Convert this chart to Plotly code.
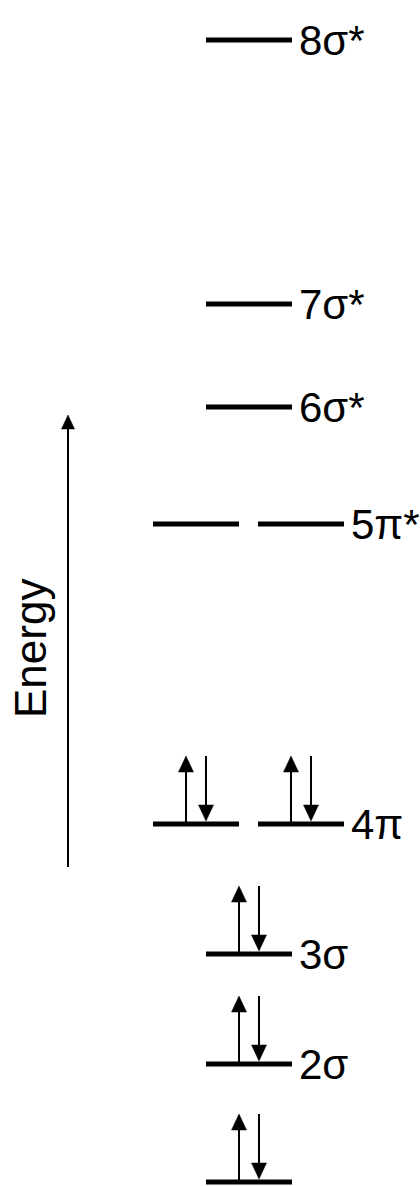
import plotly.graph_objects as go

# ---- data ----
orbitals = ["1σ", "2σ", "3σ", "4π", "5π*", "6σ*", "7σ*", "8σ*"]
labels = ["", "2σ", "3σ", "4π", "5π*", "6σ*", "7σ*", "8σ*"]
energies = [0.00, 1.18, 2.28, 3.58, 6.58, 7.75, 8.78, 11.42]
degeneracy = [1, 1, 1, 2, 2, 1, 1, 1]
electrons = [2, 2, 2, 4, 0, 0, 0, 0]
axis_label = "Energy"

# ---- layout constants ----
W, H = 420, 1186
Y_MIN, Y_MAX = -0.04, 11.82
PX = H / (Y_MAX - Y_MIN)          # pixels per energy unit


def dy(px):
    return px / PX


def e_of_px(py):
    return Y_MAX - py / PX


X_SINGLE = [249]
X_DEGEN = [196, 301]
HALF = 43
LEVEL_W = 4.8
ARROW_OFF = 10
ARROW_LEN = 68
DOWN_GAP = 3
HEAD_L = 16
HEAD_HW = 7.5
SHAFT_W = 2
FONT = "Arial, Liberation Sans, sans-serif"
FS = 42

lx, ly = [], []
sx, sy = [], []
hx, hy = [], []
annotations = []

for name, lab, e, g, n in zip(orbitals, labels, energies, degeneracy, electrons):
    centers = X_SINGLE if g == 1 else X_DEGEN
    per = n // g
    for c in centers:
        lx += [c - HALF, c + HALF, None]
        ly += [e, e, None]
        if per >= 1:
            x = c - ARROW_OFF
            tip = e + dy(ARROW_LEN)
            sx += [x, x, None]
            sy += [e, tip - dy(HEAD_L - 2), None]
            hx += [x - HEAD_HW, x + HEAD_HW, x, x - HEAD_HW, None]
            hy += [tip - dy(HEAD_L), tip - dy(HEAD_L), tip, tip - dy(HEAD_L), None]
        if per >= 2:
            x = c + ARROW_OFF
            tip = e + dy(DOWN_GAP)
            top = e + dy(ARROW_LEN)
            sx += [x, x, None]
            sy += [top, tip + dy(HEAD_L - 2), None]
            hx += [x - HEAD_HW, x + HEAD_HW, x, x - HEAD_HW, None]
            hy += [tip + dy(HEAD_L), tip + dy(HEAD_L), tip, tip + dy(HEAD_L), None]
    if lab:
        right = max(centers) + HALF
        annotations.append(dict(
            x=right + 5, y=e, xref="x", yref="y", text=lab, showarrow=False,
            xanchor="left", yanchor="middle",
            font=dict(family=FONT, size=FS, color="black")))

# energy axis arrow
EX = 68
e_bot = e_of_px(867)
e_tip = e_of_px(415)
EH_L = 14
EH_HW = 6.5
sx += [EX, EX, None]
sy += [e_bot, e_tip - dy(EH_L - 2), None]
hx += [EX - EH_HW, EX + EH_HW, EX, EX - EH_HW, None]
hy += [e_tip - dy(EH_L), e_tip - dy(EH_L), e_tip, e_tip - dy(EH_L), None]

annotations.append(dict(
    x=30, y=e_of_px(649), xref="x", yref="y", text=axis_label, showarrow=False,
    textangle=-90, xanchor="center", yanchor="middle",
    font=dict(family=FONT, size=44, color="black")))

fig = go.Figure()
fig.add_trace(go.Scatter(x=lx, y=ly, mode="lines",
                         line=dict(color="black", width=LEVEL_W),
                         hoverinfo="skip"))
fig.add_trace(go.Scatter(x=sx, y=sy, mode="lines",
                         line=dict(color="black", width=SHAFT_W),
                         hoverinfo="skip"))
fig.add_trace(go.Scatter(x=hx, y=hy, mode="lines", fill="toself",
                         fillcolor="black", line=dict(color="black", width=0.5),
                         hoverinfo="skip"))

fig.update_layout(
    width=W, height=H, margin=dict(l=0, r=0, t=0, b=0),
    paper_bgcolor="white", plot_bgcolor="white", showlegend=False,
    xaxis=dict(range=[0, W], visible=False, fixedrange=True),
    yaxis=dict(range=[Y_MIN, Y_MAX], visible=False, fixedrange=True),
    annotations=annotations,
)

fig.write_html("out.html", config={"displayModeBar": False},
               post_script="document.body.style.margin='0';"
                           "document.body.style.overflow='hidden';")
